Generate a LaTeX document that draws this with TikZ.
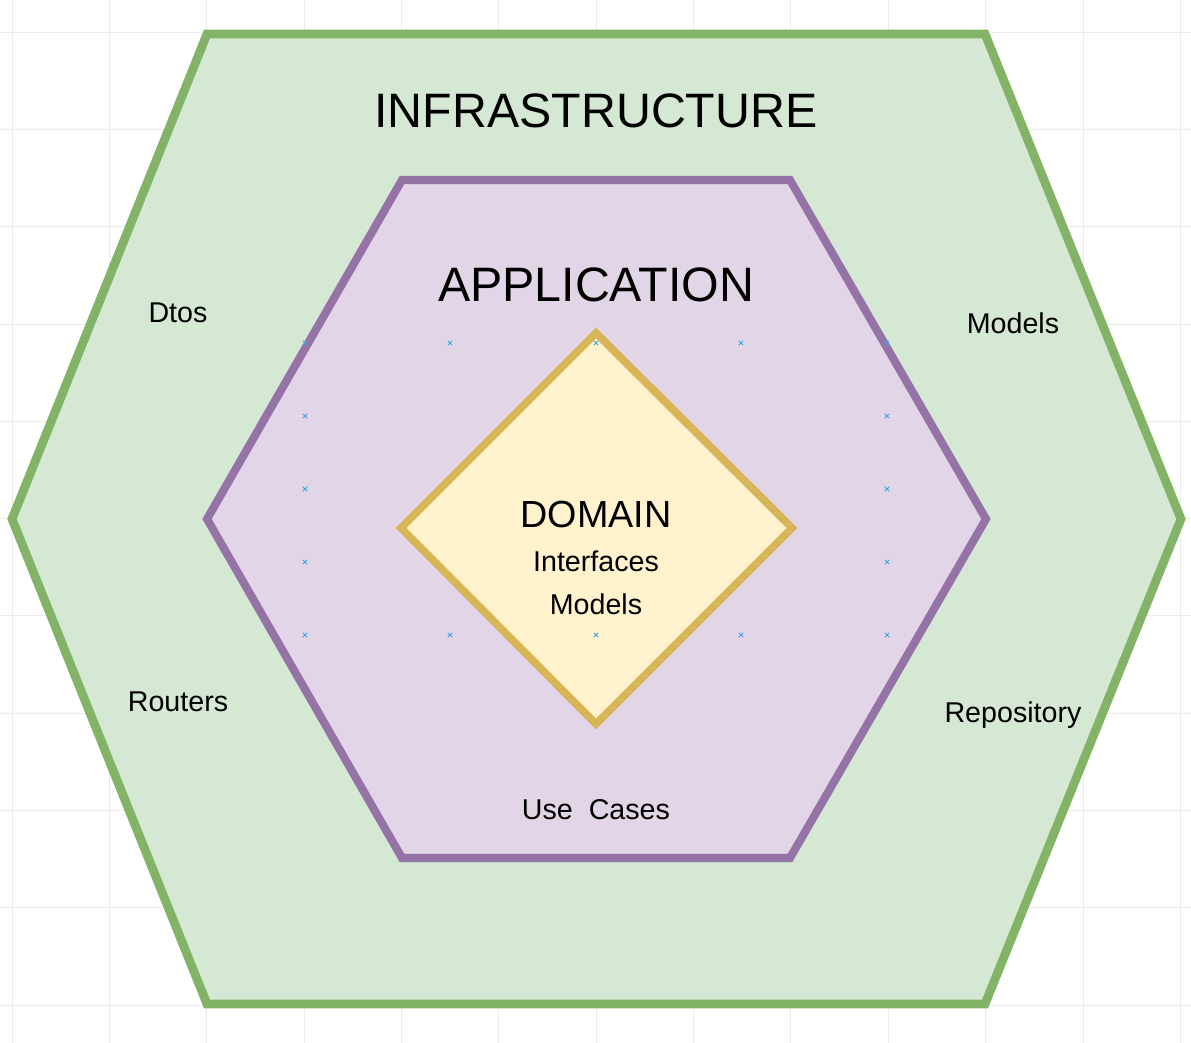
\documentclass[tikz,border=0pt]{standalone}
\usepackage{fontspec}
\setmainfont{Liberation Sans}
\definecolor{infraFill}{HTML}{D5E8D4}
\definecolor{infraLine}{HTML}{82B366}
\definecolor{appFill}{HTML}{E1D5E7}
\definecolor{appLine}{HTML}{9673A6}
\definecolor{domFill}{HTML}{FFF2CC}
\definecolor{domLine}{HTML}{D6B656}
\definecolor{gridGray}{HTML}{EBEBEB}
\definecolor{pinBlue}{HTML}{3AA6E6}

\begin{document}
\begin{tikzpicture}[
  x=0.02cm, y=-0.02cm,
  gridline/.style={draw=gridGray, line width=0.4pt},
  infra/.style={fill=infraFill, draw=infraLine, line width=5pt, line join=miter},
  app/.style={fill=appFill, draw=appLine, line width=4.6pt, line join=miter},
  dom/.style={fill=domFill, draw=domLine, line width=4.4pt, line join=miter},
  bigtitle/.style={inner sep=0pt, font=\fontsize{27.5}{32}\selectfont},
  midtitle/.style={inner sep=0pt, font=\fontsize{21.5}{26}\selectfont},
  lbl/.style={inner sep=0pt, anchor=base, font=\fontsize{16.3}{19}\selectfont},
  pin/.style={draw=pinBlue, line width=0.55pt},
]

\useasboundingbox (0,0) rectangle (1191,1043);

% === Grid ===
\foreach \gx in {0,...,12}
  \draw[gridline] ({12+97.35*\gx},0) -- ({12+97.35*\gx},1043);
\foreach \gy in {0,...,10}
  \draw[gridline] (0,{32+97.3*\gy}) -- (1191,{32+97.3*\gy});

% === Layers ===
\coordinate (o1) at (207,34);
\coordinate (o2) at (985,34);
\coordinate (o3) at (1181,519);
\coordinate (o4) at (985,1004);
\coordinate (o5) at (207,1004);
\coordinate (o6) at (12,519);
\draw[infra] (o1) -- (o2) -- (o3) -- (o4) -- (o5) -- (o6) -- cycle;

\coordinate (a1) at (402,180);
\coordinate (a2) at (790,180);
\coordinate (a3) at (986,519);
\coordinate (a4) at (790,858);
\coordinate (a5) at (402,858);
\coordinate (a6) at (207,519);
\draw[app] (a1) -- (a2) -- (a3) -- (a4) -- (a5) -- (a6) -- cycle;

\coordinate (d1) at (596,333);
\coordinate (d2) at (792,528);
\coordinate (d3) at (596,724);
\coordinate (d4) at (401,528);
\draw[dom] (d1) -- (d2) -- (d3) -- (d4) -- cycle;

% === Titles ===
\node[bigtitle] (infraTitle) at (596,111) {INFRASTRUCTURE};
\node[bigtitle] (appTitle) at (596,285) {APPLICATION};
\node[midtitle] (domTitle) at (596,514) {DOMAIN};

% === Labels ===
\node[lbl] (domIfaces) at (596,572) {Interfaces};
\node[lbl] (domModels) at (596,615) {Models};
\node[lbl] (infraDtos) at (178,323) {Dtos};
\node[lbl] (infraModels) at (1013,334) {Models};
\node[lbl] (infraRouters) at (178,712) {Routers};
\node[lbl] (infraRepo) at (1013,723) {Repository};
\node[lbl] (appCases) at (596,820) {Use\ \ Cases};

% === Connection points ===
\foreach \cx in {305,450,596,741,887}
  \foreach \cy in {343,635}
    \draw[pin] ({\cx-2.2},{\cy-2.2}) -- ({\cx+2.2},{\cy+2.2}) ({\cx-2.2},{\cy+2.2}) -- ({\cx+2.2},{\cy-2.2});
\foreach \cx in {305,887}
  \foreach \cy in {416,489,562}
    \draw[pin] ({\cx-2.2},{\cy-2.2}) -- ({\cx+2.2},{\cy+2.2}) ({\cx-2.2},{\cy+2.2}) -- ({\cx+2.2},{\cy-2.2});

\end{tikzpicture}
\end{document}
